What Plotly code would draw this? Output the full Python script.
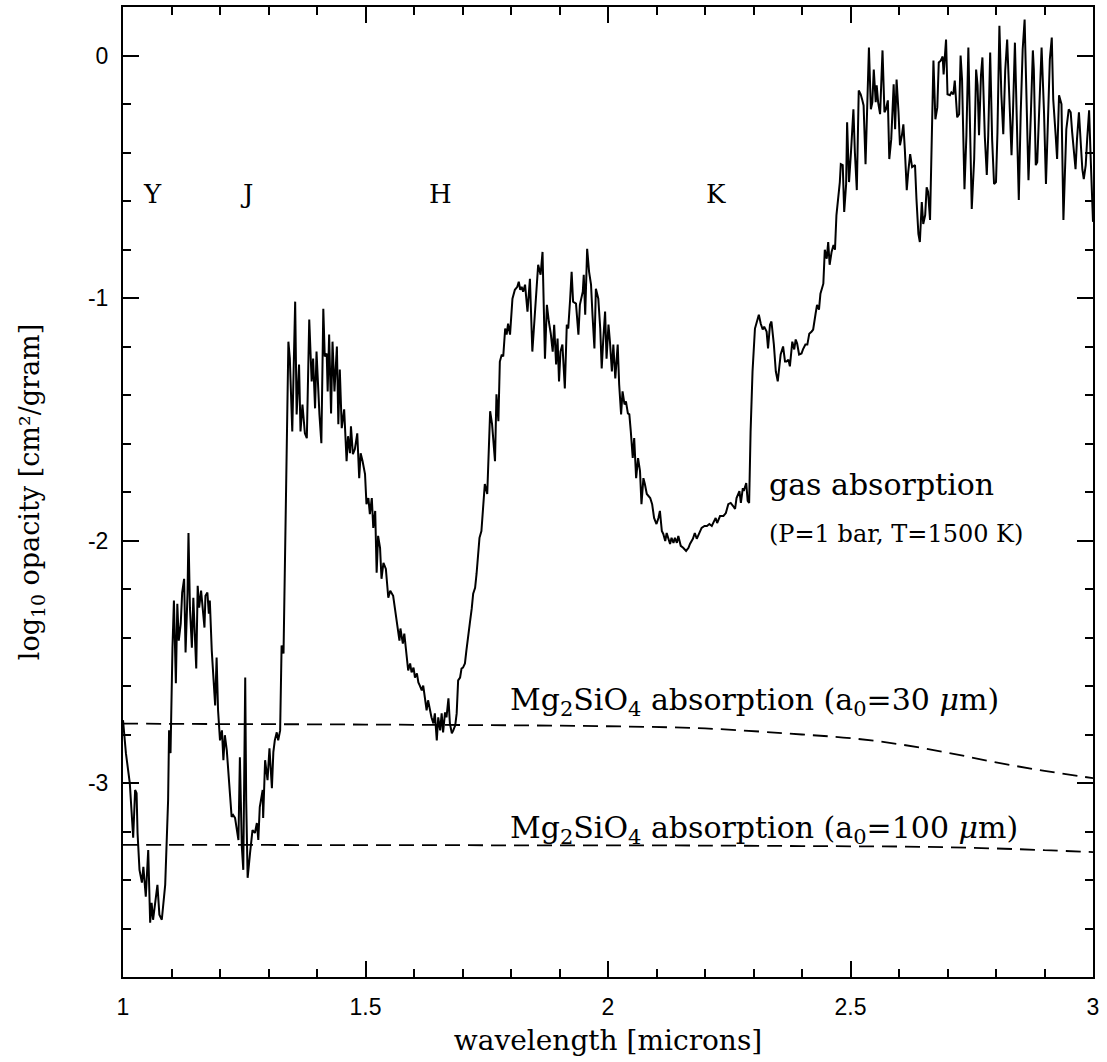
import plotly.graph_objects as go

# ---- gas absorption spectrum (wavelength in microns, log10 opacity) ----
wavelength = [
    1.000, 1.006, 1.014, 1.018, 1.021, 1.025, 1.028, 1.030, 1.034, 1.039, 1.042, 1.047, 1.052, 1.056,
    1.059, 1.062, 1.066, 1.071, 1.075, 1.080, 1.087, 1.093, 1.095, 1.098, 1.102, 1.105, 1.109, 1.112,
    1.115, 1.119, 1.122, 1.126, 1.129, 1.133, 1.135, 1.138, 1.142, 1.145, 1.148, 1.151, 1.154, 1.157,
    1.161, 1.164, 1.168, 1.170, 1.174, 1.177, 1.179, 1.183, 1.186, 1.190, 1.193, 1.196, 1.200, 1.204,
    1.207, 1.210, 1.214, 1.217, 1.221, 1.224, 1.227, 1.231, 1.234, 1.238, 1.241, 1.245, 1.248, 1.252,
    1.254, 1.257, 1.262, 1.267, 1.272, 1.276, 1.279, 1.282, 1.288, 1.289, 1.293, 1.298, 1.302, 1.307,
    1.310, 1.313, 1.317, 1.320, 1.324, 1.327, 1.331, 1.338, 1.341, 1.344, 1.349, 1.355, 1.358, 1.363,
    1.366, 1.370, 1.375, 1.379, 1.384, 1.389, 1.392, 1.396, 1.399, 1.405, 1.409, 1.413, 1.416, 1.420,
    1.422, 1.425, 1.429, 1.432, 1.436, 1.441, 1.444, 1.447, 1.451, 1.456, 1.461, 1.464, 1.468, 1.470,
    1.474, 1.478, 1.483, 1.487, 1.490, 1.494, 1.499, 1.502, 1.506, 1.509, 1.513, 1.516, 1.520, 1.523,
    1.526, 1.530, 1.533, 1.537, 1.542, 1.547, 1.551, 1.557, 1.561, 1.564, 1.570, 1.572, 1.577, 1.580,
    1.585, 1.588, 1.592, 1.595, 1.599, 1.602, 1.606, 1.609, 1.612, 1.616, 1.619, 1.623, 1.626, 1.629,
    1.633, 1.636, 1.640, 1.643, 1.647, 1.650, 1.654, 1.657, 1.660, 1.664, 1.667, 1.671, 1.674, 1.678,
    1.681, 1.685, 1.688, 1.691, 1.695, 1.698, 1.701, 1.705, 1.708, 1.712, 1.715, 1.719, 1.722, 1.726,
    1.729, 1.735, 1.739, 1.746, 1.751, 1.757, 1.761, 1.767, 1.770, 1.774, 1.777, 1.781, 1.784, 1.788,
    1.791, 1.794, 1.798, 1.803, 1.808, 1.813, 1.816, 1.819, 1.822, 1.825, 1.829, 1.834, 1.839, 1.844,
    1.849, 1.856, 1.861, 1.865, 1.870, 1.874, 1.878, 1.882, 1.886, 1.889, 1.893, 1.896, 1.899, 1.902,
    1.906, 1.911, 1.915, 1.918, 1.922, 1.925, 1.928, 1.934, 1.939, 1.942, 1.948, 1.950, 1.953, 1.957,
    1.961, 1.965, 1.968, 1.972, 1.975, 1.980, 1.984, 1.987, 1.990, 1.994, 1.997, 2.001, 2.004, 2.008,
    2.011, 2.015, 2.020, 2.023, 2.027, 2.030, 2.034, 2.037, 2.041, 2.044, 2.047, 2.051, 2.054, 2.058,
    2.062, 2.066, 2.069, 2.073, 2.076, 2.080, 2.087, 2.091, 2.095, 2.100, 2.104, 2.107, 2.111, 2.114,
    2.118, 2.121, 2.124, 2.128, 2.131, 2.135, 2.138, 2.142, 2.145, 2.150, 2.155, 2.161, 2.166, 2.169,
    2.175, 2.179, 2.183, 2.188, 2.193, 2.199, 2.204, 2.209, 2.214, 2.219, 2.222, 2.225, 2.231, 2.238,
    2.243, 2.248, 2.253, 2.258, 2.262, 2.265, 2.271, 2.274, 2.278, 2.280, 2.285, 2.288, 2.291, 2.294,
    2.298, 2.303, 2.308, 2.311, 2.315, 2.319, 2.322, 2.327, 2.330, 2.334, 2.337, 2.342, 2.346, 2.350,
    2.356, 2.361, 2.365, 2.368, 2.372, 2.375, 2.380, 2.384, 2.387, 2.390, 2.394, 2.399, 2.402, 2.407,
    2.411, 2.415, 2.420, 2.423, 2.428, 2.431, 2.435, 2.438, 2.444, 2.447, 2.451, 2.454, 2.457, 2.461,
    2.465, 2.468, 2.471, 2.475, 2.478, 2.480, 2.484, 2.487, 2.491, 2.493, 2.497, 2.501, 2.506, 2.509,
    2.513, 2.517, 2.521, 2.524, 2.527, 2.531, 2.535, 2.538, 2.542, 2.545, 2.548, 2.552, 2.554, 2.557,
    2.561, 2.566, 2.570, 2.573, 2.577, 2.580, 2.584, 2.587, 2.589, 2.592, 2.595, 2.599, 2.602, 2.606,
    2.609, 2.612, 2.616, 2.619, 2.623, 2.627, 2.633, 2.636, 2.640, 2.643, 2.647, 2.650, 2.654, 2.657,
    2.660, 2.664, 2.667, 2.671, 2.675, 2.679, 2.682, 2.686, 2.690, 2.692, 2.697, 2.700, 2.705, 2.708,
    2.712, 2.715, 2.720, 2.724, 2.727, 2.730, 2.735, 2.739, 2.743, 2.746, 2.750, 2.755, 2.759, 2.762,
    2.765, 2.769, 2.772, 2.777, 2.781, 2.784, 2.788, 2.792, 2.796, 2.800, 2.803, 2.807, 2.811, 2.815,
    2.819, 2.823, 2.827, 2.832, 2.835, 2.839, 2.843, 2.847, 2.851, 2.855, 2.859, 2.863, 2.867, 2.872,
    2.876, 2.878, 2.882, 2.885, 2.889, 2.894, 2.899, 2.903, 2.907, 2.911, 2.915, 2.918, 2.923, 2.926,
    2.930, 2.935, 2.939, 2.942, 2.945, 2.950, 2.954, 2.957, 2.961, 2.964, 2.967, 2.971, 2.975, 2.978,
    2.981, 2.985, 2.988, 2.992, 2.995, 3.000,
]

log_opacity_gas = [
    -2.741, -2.877, -3.000, -3.124, -3.226, -3.029, -3.042, -3.206, -3.358, -3.411, -3.346, -3.469, -3.276, -3.576,
    -3.494, -3.564, -3.494, -3.420, -3.543, -3.564, -3.420, -3.070, -2.783, -2.877, -2.442, -2.248, -2.589, -2.261,
    -2.413, -2.343, -2.215, -2.158, -2.462, -2.219, -1.969, -2.277, -2.442, -2.236, -2.384, -2.528, -2.187, -2.277,
    -2.207, -2.289, -2.359, -2.228, -2.215, -2.302, -2.248, -2.454, -2.536, -2.680, -2.483, -2.700, -2.824, -2.783,
    -2.906, -2.803, -2.865, -2.968, -3.058, -3.140, -3.132, -3.144, -3.194, -3.235, -2.894, -3.263, -3.358, -2.565,
    -3.070, -3.391, -3.288, -3.194, -3.206, -3.165, -3.235, -3.099, -3.029, -3.144, -2.906, -2.988, -2.857, -3.021,
    -2.873, -2.824, -2.791, -2.824, -2.783, -2.433, -2.466, -1.620, -1.180, -1.250, -1.550, -1.015, -1.480, -1.274,
    -1.550, -1.439, -1.558, -1.578, -1.089, -1.344, -1.250, -1.455, -1.221, -1.480, -1.599, -1.044, -1.241, -1.229,
    -1.385, -1.151, -1.476, -1.180, -1.385, -1.200, -1.521, -1.295, -1.537, -1.459, -1.673, -1.570, -1.640, -1.529,
    -1.644, -1.624, -1.558, -1.743, -1.640, -1.673, -1.726, -1.850, -1.825, -1.891, -1.825, -1.948, -1.878, -2.133,
    -1.981, -2.030, -2.158, -2.092, -2.117, -2.236, -2.207, -2.228, -2.289, -2.318, -2.413, -2.363, -2.425, -2.384,
    -2.466, -2.536, -2.507, -2.544, -2.524, -2.565, -2.548, -2.585, -2.598, -2.618, -2.598, -2.647, -2.700, -2.659,
    -2.700, -2.729, -2.754, -2.713, -2.824, -2.729, -2.783, -2.713, -2.791, -2.709, -2.729, -2.651, -2.754, -2.795,
    -2.783, -2.762, -2.713, -2.577, -2.565, -2.528, -2.524, -2.507, -2.454, -2.400, -2.343, -2.281, -2.219, -2.195,
    -2.137, -1.989, -1.961, -1.767, -1.808, -1.467, -1.521, -1.673, -1.397, -1.508, -1.262, -1.233, -1.241, -1.126,
    -1.151, -1.106, -1.151, -1.003, -0.966, -0.954, -0.933, -0.966, -0.954, -0.974, -0.945, -1.056, -0.921, -1.221,
    -1.069, -0.863, -0.904, -0.810, -1.250, -1.028, -1.097, -1.147, -1.221, -1.110, -1.274, -1.167, -1.344, -1.221,
    -1.192, -1.373, -1.110, -1.126, -1.003, -0.892, -1.015, -1.023, -1.151, -1.028, -0.974, -0.904, -1.069, -0.797,
    -0.892, -0.945, -1.069, -1.208, -0.962, -1.003, -1.126, -1.291, -1.180, -1.056, -1.250, -1.110, -1.180, -1.303,
    -1.192, -1.332, -1.192, -1.356, -1.480, -1.385, -1.439, -1.426, -1.476, -1.480, -1.550, -1.660, -1.578, -1.743,
    -1.660, -1.714, -1.850, -1.743, -1.767, -1.808, -1.825, -1.850, -1.907, -1.932, -1.907, -1.878, -1.961, -1.973,
    -2.002, -1.969, -1.989, -2.014, -1.989, -2.010, -1.989, -2.010, -1.981, -2.022, -2.030, -2.043, -2.030, -2.014,
    -1.993, -1.969, -1.993, -1.969, -1.948, -1.940, -1.940, -1.932, -1.940, -1.919, -1.907, -1.928, -1.899, -1.899,
    -1.887, -1.850, -1.845, -1.858, -1.870, -1.825, -1.796, -1.845, -1.784, -1.796, -1.763, -1.837, -1.845, -1.550,
    -1.303, -1.126, -1.085, -1.069, -1.106, -1.130, -1.118, -1.138, -1.208, -1.110, -1.097, -1.192, -1.303, -1.344,
    -1.233, -1.200, -1.262, -1.262, -1.254, -1.282, -1.180, -1.212, -1.171, -1.188, -1.233, -1.229, -1.212, -1.192,
    -1.192, -1.147, -1.138, -1.130, -1.065, -1.028, -1.048, -0.982, -0.941, -0.801, -0.838, -0.769, -0.863, -0.810,
    -0.781, -0.801, -0.658, -0.592, -0.522, -0.448, -0.452, -0.645, -0.530, -0.275, -0.522, -0.399, -0.222, -0.399,
    -0.555, -0.144, -0.160, -0.181, -0.206, -0.448, -0.193, 0.033, -0.222, -0.193, -0.058, -0.193, -0.123, -0.193,
    -0.242, 0.021, -0.234, -0.222, -0.185, -0.427, -0.345, -0.222, -0.119, -0.304, -0.099, -0.234, -0.370, -0.329,
    -0.284, -0.386, -0.555, -0.481, -0.407, -0.460, -0.452, -0.592, -0.736, -0.769, -0.604, -0.695, -0.658, -0.543,
    -0.563, -0.678, -0.440, -0.021, -0.263, -0.214, -0.029, -0.021, -0.004, -0.078, 0.066, -0.160, -0.164, -0.152,
    -0.160, -0.103, -0.255, -0.242, 0.000, -0.099, -0.551, -0.329, 0.033, -0.222, -0.633, -0.427, -0.058, -0.123,
    -0.329, -0.082, -0.008, -0.337, -0.493, -0.329, 0.012, -0.345, -0.530, -0.522, -0.316, 0.123, -0.160, -0.325,
    -0.062, 0.066, -0.164, -0.411, -0.234, 0.053, -0.275, -0.596, -0.234, 0.025, 0.148, -0.234, -0.514, -0.234,
    0.021, -0.058, -0.452, -0.440, -0.206, 0.033, -0.234, -0.530, -0.275, -0.016, 0.074, -0.181, -0.329, -0.427,
    -0.164, -0.201, -0.678, -0.481, -0.304, -0.222, -0.234, -0.316, -0.399, -0.469, -0.345, -0.234, -0.370, -0.469,
    -0.510, -0.452, -0.345, -0.226, -0.411, -0.686,
]

# ---- Mg2SiO4 grain absorption curves ----
wavelength_dust = [1.0, 1.2, 1.4, 1.6, 1.8, 2.0, 2.2, 2.4, 2.5, 2.6, 2.7, 2.8, 2.9, 3.0]
log_opacity_a30 = [-2.755, -2.757, -2.758, -2.760, -2.762, -2.766, -2.775, -2.800, -2.815, -2.840,
                   -2.875, -2.915, -2.950, -2.980]
log_opacity_a100 = [-3.255, -3.255, -3.256, -3.256, -3.257, -3.257, -3.258, -3.260, -3.261, -3.262,
                    -3.265, -3.270, -3.277, -3.285]

# ---- band labels ----
band_names = ["Y", "J", "H", "K"]
band_centers = [1.06, 1.254, 1.654, 2.223]
band_label_y = -0.57

SERIF = "DejaVu Serif"
SANS = "Liberation Sans, Arial"

fig = go.Figure()
fig.add_trace(go.Scatter(x=wavelength, y=log_opacity_gas, mode="lines",
                         line=dict(color="black", width=2), showlegend=False))
fig.add_trace(go.Scatter(x=wavelength_dust, y=log_opacity_a30, mode="lines", line_shape="spline",
                         line=dict(color="black", width=1.8, dash="15px,8px"), showlegend=False))
fig.add_trace(go.Scatter(x=wavelength_dust, y=log_opacity_a100, mode="lines", line_shape="spline",
                         line=dict(color="black", width=1.8, dash="15px,8px"), showlegend=False))

annotations = []
for name, xc in zip(band_names, band_centers):
    annotations.append(dict(x=xc, y=band_label_y, text=name, showarrow=False,
                            font=dict(family=SERIF, size=26, color="black"),
                            xanchor="center", yanchor="middle"))

annotations += [
    dict(x=2.328, y=-1.77, text="gas absorption", showarrow=False, xanchor="left", yanchor="middle",
         font=dict(family=SERIF, size=30, color="black")),
    dict(x=2.328, y=-1.975, text="(P=1 bar, T=1500 K)", showarrow=False, xanchor="left", yanchor="middle",
         font=dict(family=SERIF, size=24, color="black")),
    dict(x=1.794, y=-2.665, text="Mg<sub>2</sub>SiO<sub>4</sub> absorption (a<sub>0</sub>=30 <i>μ</i>m)",
         showarrow=False, xanchor="left", yanchor="middle", font=dict(family=SERIF, size=30, color="black")),
    dict(x=1.794, y=-3.19, text="Mg<sub>2</sub>SiO<sub>4</sub> absorption (a<sub>0</sub>=100 <i>μ</i>m)",
         showarrow=False, xanchor="left", yanchor="middle", font=dict(family=SERIF, size=30, color="black")),
]

axis_common = dict(showline=True, linecolor="black", linewidth=2, mirror="allticks",
                   ticks="inside", tickcolor="black", tickwidth=1.5, ticklen=16,
                   showgrid=False, zeroline=False, ticklabelstandoff=8,
                   tickfont=dict(family=SANS, size=23, color="black"))

fig.update_xaxes(range=[1, 3], tickvals=[1, 1.5, 2, 2.5, 3], ticktext=["1", "1.5", "2", "2.5", "3"],
                 minor=dict(dtick=0.1, ticks="inside", ticklen=8, tickcolor="black", tickwidth=1.5, showgrid=False),
                 title=dict(text="wavelength [microns]", font=dict(family=SERIF, size=28, color="black"), standoff=12),
                 **axis_common)
fig.update_yaxes(range=[-3.8, 0.2], tickvals=[0, -1, -2, -3], ticktext=["0", "-1", "-2", "-3"],
                 minor=dict(dtick=0.2, ticks="inside", ticklen=8, tickcolor="black", tickwidth=1.5, showgrid=False),
                 title=dict(text="log<sub>10</sub> opacity [cm²/gram]", font=dict(family=SERIF, size=27, color="black"),
                            standoff=40),
                 **axis_common)

fig.update_layout(width=1107, height=1062, margin=dict(l=123, r=14, t=5, b=85),
                  plot_bgcolor="white", paper_bgcolor="white", annotations=annotations)

fig.write_html("out.html")
